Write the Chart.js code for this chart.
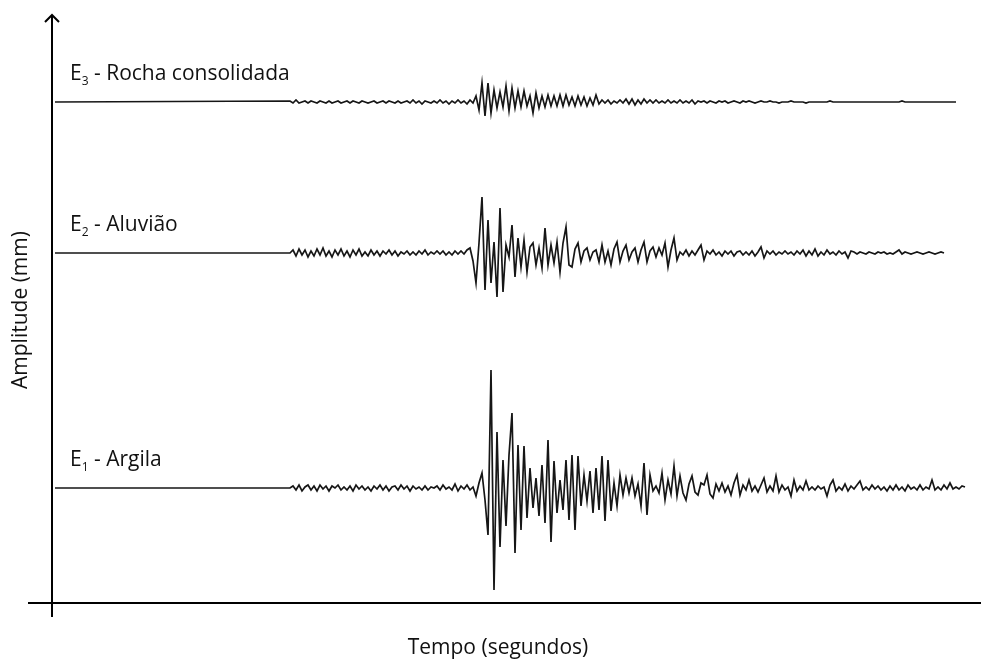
<!DOCTYPE html>
<html>
<head>
<meta charset="utf-8">
<script src="https://cdn.jsdelivr.net/npm/chart.js@4/dist/chart.umd.min.js"></script>
<style>
html,body{margin:0;padding:0;background:#fff;}
#wrap{width:981px;height:659px;}
</style>
</head>
<body>
<div id="wrap"><canvas id="c" width="981" height="659"></canvas></div>
<script>
// ---- data (time in s, amplitude in arbitrary mm units) ----
const seriesNames = ["E1 - Argila", "E2 - Aluvião", "E3 - Rocha consolidada"];
const labelMain = ["E", "E", "E"];
const labelSub = ["1", "2", "3"];
const labelRest = [" - Argila", " - Aluvião", " - Rocha consolidada"];
const baselines = [115, 350, 501];          // rest level of each trace
const leadInTime = 0.3;                     // start of flat trace
const sampleStart = 23.8;                   // first recorded sample (s)
const sampleStep = 0.3;                     // sampling interval (s)
const timeMax = 92.9;
const ampMax = 588;

const e1Amp = [
 0,2,-2,3,-3,1,3,-2,2,-3,
 3,-1,2,-3,2,0,3,-2,1,-2,
 2,-3,3,-1,2,-2,1,-3,2,-1,
 3,-2,2,-3,1,2,-2,3,-1,2,
 -3,2,-1,1,-2,2,-2,1,0,2,
 -2,3,-1,1,-2,4,-3,2,-1,3,
 -2,1,-8,5,15,-12,-47,118,-102,56,
 -59,28,-38,33,75,-65,43,-42,42,-30,
 20,-20,10,-28,23,-35,48,-54,27,-25,
 8,-22,28,-32,33,-42,32,-18,13,-13,
 17,-25,20,-22,32,-33,28,-23,5,-18,
 13,-7,10,-5,10,-8,4,-18,25,-27,
 13,-3,2,-5,15,-12,8,-6,22,-8,
 12,-5,-12,4,12,-4,-7,5,3,13,
 -6,-10,4,-3,5,-4,2,-7,5,13,
 -7,3,-2,8,-3,2,-4,3,10,-4,
 2,-3,12,-4,3,-2,1,-8,8,-3,
 2,-2,7,-2,1,-2,2,-1,1,-8,
 3,8,-3,1,-2,4,-3,2,-1,3,
 7,-2,1,-2,3,-1,2,-2,1,-3,
 2,-2,3,-2,1,-3,3,-1,1,-2,
 3,-2,1,-1,8,-2,1,-2,3,-1,
 5,-1,1,-1,2,1
];

const e2Amp = [
 0,3,-3,4,-2,3,-4,2,-3,4,
 -2,5,-3,2,-4,3,-2,4,-3,2,
 -4,3,-2,4,-3,1,-3,3,-2,2,
 -3,2,-1,3,-2,2,-3,1,-1,2,
 -2,1,-2,2,-1,3,-2,1,-1,2,
 -1,2,-2,1,-2,2,-1,2,-1,3,
 5,-8,-30,10,56,-37,33,-30,11,-44,
 45,-39,8,-4,28,-24,15,-14,13,-19,
 6,10,-12,5,-15,25,-12,8,-10,11,
 -19,10,26,-12,-14,4,10,-9,2,5,
 -7,1,3,-9,8,-9,2,-12,4,11,
 -9,2,8,-7,1,5,-9,3,11,-9,
 2,6,-4,5,-2,10,-14,3,15,-7,
 1,-2,3,-3,2,-2,3,8,-7,2,
 -1,3,-2,1,-3,2,-1,2,-3,1,
 2,-2,1,-2,2,-3,1,6,-5,2,
 -1,2,-2,1,-1,2,-1,1,-2,2,
 -1,3,-3,2,-2,4,-3,1,-2,3,
 -1,1,-2,2,-1,1,-5,2,1,-1,
 1,0,-1,1,0,-1,1,0,1,-1,
 0,-1,1,3,-1,1,0,-1,0,1,
 0,-1,0,1,0,-1,0,1,0
];

const e3Amp = [
 1,-1,2,-1,0,1,-1,1,0,-1,
 1,0,-1,1,-1,0,1,-1,0,1,
 -1,1,0,-1,1,0,-1,0,1,-1,
 0,1,-1,1,0,-1,1,-1,0,1,
 -1,2,-1,1,-2,1,0,-1,1,-1,
 2,-1,1,-2,1,-1,2,-1,1,-2,
 2,-1,6,-8,19,-14,19,-11,12,-6,
 10,-5,16,-9,14,-6,11,-5,11,-4,
 6,-11,9,-6,6,-5,7,-4,6,-4,
 7,-4,7,-3,5,-4,6,-3,5,-4,
 4,-3,7,-2,2,-1,2,-2,1,-1,
 2,-1,3,-2,3,-3,2,-2,3,-1,
 2,-1,2,-1,1,-1,2,-1,1,-1,
 2,-1,1,-1,2,-2,1,0,1,-1,
 1,0,-1,1,0,1,-1,0,1,0,
 -1,1,0,1,0,-1,0,1,0,0,
 1,0,0,-1,0,0,0,1,0,0,
 0,0,-1,0,0,0,0,0,0,0,
 1,0,0,0,0,0,0,0,0,0,
 0,0,0,0,0,0,0,0,0,0,
 0,0,0,0,1,0,0,0,0,0,
 0,0,0,0,0,0,0,0,0,0,
 0,0,0
];

const traces = [e1Amp, e2Amp, e3Amp];

function buildPoints(amps, base) {
  const pts = [{x: leadInTime, y: base}];
  amps.forEach((a, i) => pts.push({x: sampleStart + i * sampleStep, y: base + a}));
  return pts;
}

const datasets = traces.map((amps, k) => ({
  label: seriesNames[k],
  data: buildPoints(amps, baselines[k]),
  borderColor: '#161616',
  borderWidth: 1.7,
  pointRadius: 0,
  tension: 0,
  fill: false
}));

const FONT = '"Open Sans", "DejaVu Sans", sans-serif';

const decor = {
  id: 'decor',
  afterDraw(chart) {
    const ctx = chart.ctx;
    const xs = chart.scales.x, ys = chart.scales.y;
    const x0 = xs.getPixelForValue(0);
    const y0 = ys.getPixelForValue(0);
    const yTop = ys.getPixelForValue(ampMax);
    ctx.save();
    ctx.strokeStyle = '#000';
    ctx.lineWidth = 2;
    // y axis with arrow
    ctx.beginPath();
    ctx.moveTo(x0, y0 + 14);
    ctx.lineTo(x0, yTop);
    ctx.stroke();
    ctx.beginPath();
    ctx.moveTo(x0 - 7, yTop + 7);
    ctx.lineTo(x0, yTop);
    ctx.lineTo(x0 + 7, yTop + 7);
    ctx.stroke();
    // x axis
    ctx.beginPath();
    ctx.moveTo(x0 - 24, y0);
    ctx.lineTo(chart.chartArea.right, y0);
    ctx.stroke();

    // series labels with subscripts
    ctx.fillStyle = '#111';
    ctx.textBaseline = 'alphabetic';
    ctx.textAlign = 'left';
    for (let k = 0; k < 3; k++) {
      const by = ys.getPixelForValue(baselines[k]) - 22;
      let lx = x0 + 18;
      ctx.font = '21px ' + FONT;
      ctx.fillText(labelMain[k], lx, by);
      lx += ctx.measureText(labelMain[k]).width;
      ctx.font = '12px ' + FONT;
      ctx.fillText(labelSub[k], lx, by + 5);
      lx += ctx.measureText(labelSub[k]).width;
      ctx.font = '21px ' + FONT;
      ctx.fillText(labelRest[k], lx, by);
    }

    // axis titles
    ctx.font = '21px ' + FONT;
    ctx.textAlign = 'center';
    ctx.textBaseline = 'middle';
    ctx.fillText('Tempo (segundos)', xs.getPixelForValue(44.6), y0 + 45);
    ctx.save();
    ctx.translate(21, ys.getPixelForValue(293));
    ctx.rotate(-Math.PI / 2);
    ctx.fillText('Amplitude (mm)', 0, 0);
    ctx.restore();
    ctx.restore();
  }
};

new Chart(document.getElementById('c'), {
  type: 'line',
  data: { datasets },
  options: {
    responsive: false,
    devicePixelRatio: 1,
    animation: false,
    layout: { padding: { left: 52, top: 15, right: 0, bottom: 56 } },
    plugins: { legend: { display: false }, tooltip: { enabled: false } },
    scales: {
      x: { type: 'linear', min: 0, max: timeMax, display: false },
      y: { type: 'linear', min: 0, max: ampMax, display: false }
    }
  },
  plugins: [decor]
});
</script>
</body>
</html>
